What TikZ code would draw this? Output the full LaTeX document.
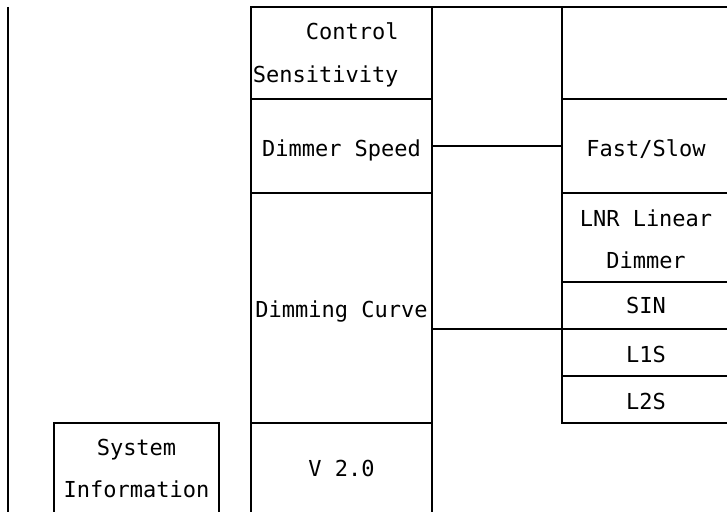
\documentclass[tikz,border=0pt]{standalone}
\usepackage{fontspec}
\setmonofont{DejaVu Sans Mono}
\begin{document}
\begin{tikzpicture}[x=1pt,y=-1pt,line width=2pt,
  cell/.style={draw,rectangle,inner sep=0pt,outer sep=0pt,anchor=north west},
  mid/.style={cell,minimum width=181pt},
  rgt/.style={cell,minimum width=168pt},
  txt/.style={font=\ttfamily\fontsize{22}{42}\selectfont,inner sep=0pt,anchor=base}]
\clip (0,0) rectangle (727,511);
% middle column
\node[mid,minimum height=92pt]  (cs) at (251,7)   {};
\node[mid,minimum height=94pt]  (ds) at (251,99)  {};
\node[mid,minimum height=230pt] (dc) at (251,193) {};
\node[mid,minimum height=120pt] (v2) at (251,423) {};
% right column
\node[rgt,minimum height=92pt] (r0)  at (562,7)   {};
\node[rgt,minimum height=94pt] (fs)  at (562,99)  {};
\node[rgt,minimum height=89pt] (lnr) at (562,193) {};
\node[rgt,minimum height=47pt] (sin) at (562,282) {};
\node[rgt,minimum height=47pt] (l1s) at (562,329) {};
\node[rgt,minimum height=47pt] (l2s) at (562,376) {};
% system information
\node[cell,minimum width=165pt,minimum height=120pt] (si) at (54,423) {};
% left line
\coordinate (lt) at (8,7);
\coordinate (lb) at (8,520);
\draw (lt) -- (lb);
% top and connectors
\draw (cs.north east) -- (r0.north west);
\draw (ds.east) -- (fs.west);
\draw (dc.east |- l1s.north west) -- (l1s.north west);
% texts
\node[txt,anchor=base east] (tcs) at (399.5,40) {Control};
\node[txt,anchor=base east] (tcs2) at (399.5,82) {Sensitivity};
\node[txt] (tds) at (341.5,156) {Dimmer Speed};
\node[txt] (tdc) at (341.5,317) {Dimming Curve};
\node[txt] (tv2) at (341.5,476) {V 2.0};
\node[txt] (tsi1) at (136.5,455) {System};
\node[txt] (tsi2) at (136.5,497) {Information};
\node[txt] (tfs) at (646,156) {Fast/Slow};
\node[txt] (tlnr1) at (646,226) {LNR Linear};
\node[txt] (tlnr2) at (646,268) {Dimmer};
\node[txt] (tsin) at (646,313) {SIN};
\node[txt] (tl1s) at (646,362) {L1S};
\node[txt] (tl2s) at (646,409) {L2S};
\end{tikzpicture}
\end{document}
